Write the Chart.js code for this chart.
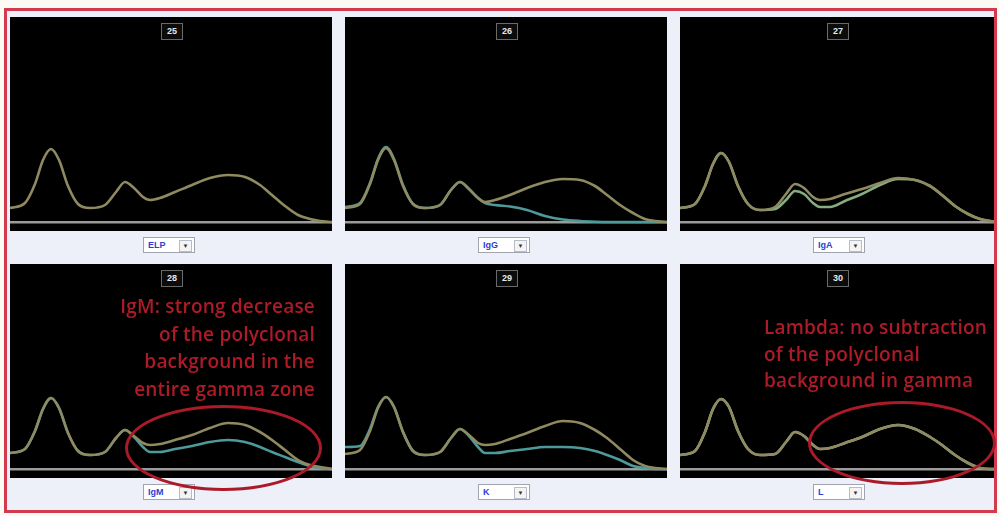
<!DOCTYPE html>
<html>
<head>
<meta charset="utf-8">
<script src="https://cdn.jsdelivr.net/npm/chart.js@4.4.0/dist/chart.umd.min.js"></script>
<style>
  html, body { margin:0; padding:0; }
  body { width:999px; height:516px; background:#fbfbf4; position:relative; overflow:hidden; font-family:"Liberation Sans", Arial, sans-serif; }
  #frame { position:absolute; left:4px; top:8px; width:993px; height:505px; box-sizing:border-box; border:3px solid #d23b4f; background:#edf0f9; }
  .panel { position:absolute; width:322px; height:214px; background:#000; }
  .panel canvas { display:block; }
  .num { position:absolute; top:6px; width:20px; height:15px; margin-left:-11px; background:#0c0c0c; border:1px solid #6a6a6a; color:#e8e8e8; font:bold 9px "Liberation Sans", Arial, sans-serif; text-align:center; line-height:15px; }
  .sel { position:absolute; width:52px; height:16px; box-sizing:border-box; background:#fff; border:1px solid #a0a4b0; font:bold 9px "Liberation Sans", Arial, sans-serif; color:#2b3fd6; line-height:14px; padding-left:4px; }
  .sel .arr { position:absolute; right:2px; top:2px; width:11px; height:10px; border:1px solid #b8bcc8; background:#f4f4f4; font-size:6px; line-height:10px; text-align:center; color:#333; }
  .note { position:absolute; color:#ac1b27; font:600 19px "Open Sans", "Liberation Sans", sans-serif; letter-spacing:0.2px; white-space:nowrap; }
  .ring { position:absolute; box-sizing:border-box; border:3px solid #ab1a28; border-radius:50%; }
</style>
</head>
<body>
<div id="frame"></div>
<div id="stage"></div>
<script>
// Migration positions (x, in panel units) shared by every curve
const mobility = [0, 15, 25, 33, 41, 49, 58, 68, 80, 95, 106, 115, 124, 133, 140, 150, 165, 182, 200, 218, 235, 250, 262, 275, 288, 300, 310, 322];

// Panel numbers and selector labels
const panelNumbers = ["25", "26", "27", "28", "29", "30"];
const selectorLabels = ["ELP", "IgG", "IgA", "IgM", "K", "L"];

// Curve values (height above baseline)
const elp25 = [14,19,38,62,73,62,36,18,14,17,30,40,34,25,22,24,30,37,44,47,45,37,27,16,7,3,1,0];

const elp26 = [14,18,38,62,74,62,36,18,14,17,32,40,33,24,20,22,27,34,40,43,42,36,27,17,9,3,1,0];
const igg26 = [15,19,39,63,75,63,37,18,14,17,32,40,33,24,19,17,15.5,12,6,2.5,1,0.3,0,0,0,0,0,0];

const elp27 = [14,18,36,58,69,60,36,18,12,15,28,38,34,25,22,23,28,33,39,44,42,36,27,16,8,3,1,0];
const iga27 = [14,18,36,58,69,60,36,18,12,13,22,31,28,19,15,15,21,28,37,43,42,36,27,16,8,3,1,0];

const elp28 = [16,20,38,60,71,61,36,18,14,17,31,39,33,26,24,25,29,34,41,46,44,37,29,19,9,4,2,0];
const igm28 = [16,20,38,60,71,61,36,18,14,17,31,39,32,22,17,17,20,23,27,29,27,22,17,12,7,3,1,0];

const elp29 = [15,19,38,61,72,62,37,18,14,17,31,40,34,26,24,25,30,36,43,48,46,39,31,20,9,3,1,0];
const k29   = [22,23,40,62,72,62,37,18,14,17,31,40,33,22,16,16,18,20,22,22,21,18,14,9,3,1,0,0];

const elp30 = [14,18,37,60,70,62,38,20,14,15,27,37,33,24,20,21,26,32,40,44,40,32,24,14,6,1,0,0];
const l30   = [14,18,37,60,70,62,38,20,14,15,27,37,33,24,20,21,26,32,40,44,40,32,24,14,6,1,0,0];

const OLIVE = "#8f8a60", TEAL = "#4e9a9a", PALE = "#a6c6a3", GREEN = "#84ad82";

const panels = [
  { left:10,  top:17,  w:322, series:[[elp25, OLIVE]] },
  { left:345, top:17,  w:322, series:[[elp26, OLIVE],[igg26, TEAL]] },
  { left:680, top:17,  w:314, series:[[elp27, OLIVE],[iga27, GREEN]] },
  { left:10,  top:264, w:322, series:[[elp28, OLIVE],[igm28, TEAL]] },
  { left:345, top:264, w:322, series:[[elp29, OLIVE],[k29, TEAL]] },
  { left:680, top:264, w:314, series:[[elp30, OLIVE],[l30, PALE]] }
];

const stage = document.getElementById("stage");
panels.forEach((p, i) => {
  const div = document.createElement("div");
  div.className = "panel";
  div.style.left = p.left + "px"; div.style.top = p.top + "px"; div.style.width = p.w + "px";
  const cv = document.createElement("canvas");
  cv.width = p.w; cv.height = 214;
  cv.style.width = p.w + "px"; cv.style.height = "214px";
  div.appendChild(cv);
  const num = document.createElement("div");
  num.className = "num"; num.textContent = panelNumbers[i];
  num.style.left = (p.w / 2 + 1) + "px";
  div.appendChild(num);
  stage.appendChild(div);

  const sel = document.createElement("div");
  sel.className = "sel";
  sel.style.left = (p.left + 133) + "px";
  sel.style.top = (p.top + 220) + "px";
  sel.innerHTML = selectorLabels[i] + '<span class="arr">&#9660;</span>';
  stage.appendChild(sel);

  new Chart(cv, {
    type: "line",
    data: {
      datasets: p.series.map(([vals, col]) => ({
        data: mobility.map((x, k) => ({ x: x, y: vals[k] })),
        borderColor: col,
        borderWidth: 2.6,
        pointRadius: 0,
        cubicInterpolationMode: "monotone",
        fill: false
      }))
    },
    options: {
      responsive: false,
      animation: false,
      devicePixelRatio: 1,
      layout: { padding: 0 },
      plugins: { legend: { display: false }, tooltip: { enabled: false } },
      scales: {
        x: { type: "linear", min: 0, max: p.w, display: false },
        y: {
          min: -9, max: 205,
          afterBuildTicks: s => { s.ticks = [{ value: 0 }]; },
          afterFit: s => { s.width = 0; },
          ticks: { display: false },
          grid: { color: "#9b9b9b", lineWidth: 2.5, drawTicks: false },
          border: { display: false }
        }
      }
    }
  });
});

// Annotations
const noteIgM = ["IgM: strong decrease", "of the polyclonal", "background in the", "entire gamma zone"];
const noteL = ["Lambda: no subtraction", "of the polyclonal", "background in gamma"];

const n1 = document.createElement("div");
n1.className = "note";
n1.style.cssText = "left:80px;width:235px;top:293px;line-height:27.5px;text-align:right;";
n1.innerHTML = noteIgM.join("<br>");
stage.appendChild(n1);

const n2 = document.createElement("div");
n2.className = "note";
n2.style.cssText = "left:764px;top:314px;line-height:26.5px;text-align:left;";
n2.innerHTML = noteL.join("<br>");
stage.appendChild(n2);

const r1 = document.createElement("div");
r1.className = "ring";
r1.style.cssText = "left:125px;top:405px;width:197px;height:86px;";
stage.appendChild(r1);

const r2 = document.createElement("div");
r2.className = "ring";
r2.style.cssText = "left:808px;top:401px;width:188px;height:84px;";
stage.appendChild(r2);
</script>
</body>
</html>
